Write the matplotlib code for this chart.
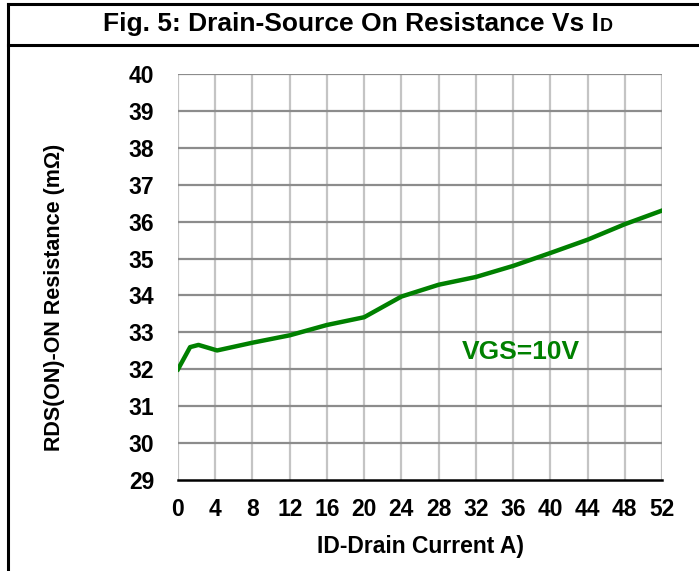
import matplotlib
matplotlib.use("Agg")
import matplotlib.pyplot as plt
from matplotlib import font_manager
from matplotlib.lines import Line2D

names = {f.name for f in font_manager.fontManager.ttflist}
FONT = "Liberation Sans Narrow" if "Liberation Sans Narrow" in names else "Liberation Sans"
plt.rcParams['font.family'] = [FONT, 'DejaVu Sans']

# Data
drain_current = [0, 1.3, 2.2, 4.2, 8, 12, 16, 20, 24, 28, 32, 36, 40, 44, 48, 52]
rds_on = [32.0, 32.6, 32.66, 32.51, 32.72, 32.92, 33.2, 33.41, 33.97, 34.29, 34.5, 34.8, 35.15, 35.51, 35.93, 36.3]
x_ticks = list(range(0, 53, 4))
y_ticks = list(range(29, 41))

GREEN = "#008000"
W, H = 699, 571

fig = plt.figure(figsize=(6.99, 5.71), dpi=100)
ax = fig.add_axes([178/W, 1-480/H, (662-178)/W, (480-74)/H])

ax.plot(drain_current, rds_on, color=GREEN, lw=3.2, solid_joinstyle='round', zorder=5)

ax.set_xlim(0, 52)
ax.set_ylim(29, 40)
ax.set_xticks(x_ticks)
ax.set_yticks(y_ticks)
ax.tick_params(length=0, labelsize=16.5)
ax.tick_params(axis='x', pad=13)
ax.tick_params(axis='y', pad=17)
for lab in ax.get_xticklabels() + ax.get_yticklabels():
    lab.set_fontweight('bold')

for y in y_ticks[1:]:
    ax.axhline(y, color="#8c8c8c", lw=1.6, zorder=2)
for x in x_ticks:
    ax.axvline(x, color="#c4c4c4", lw=1.6, zorder=1)
for s in ['top', 'right', 'left']:
    ax.spines[s].set_visible(False)
ax.spines['bottom'].set_color('black')
ax.spines['bottom'].set_linewidth(1.8)
ax.spines['bottom'].set_zorder(6)

ax.set_xlabel("ID-Drain Current A)", fontsize=16.5, fontweight='bold')
ax.set_ylabel("RDS(ON)-ON Resistance (mΩ)", fontsize=15.5, fontweight='bold')
ax.xaxis.set_label_coords(0.5, -(547-480)/406)
ax.xaxis.label.set_va('center')
ax.yaxis.set_label_coords((55-178)/484, 1-(297.5-74)/406)
ax.yaxis.label.set_va('center')

ax.text(30.5, 32.46, "VGS=10V", color=GREEN, fontsize=19, fontweight='bold',
        ha='left', va='center', zorder=7)

# Frame lines
fig.add_artist(Line2D([8/W, 8/W], [0, 1-4/H], color='black', lw=2.2, transform=fig.transFigure))
fig.add_artist(Line2D([8/W, 1], [1-4/H, 1-4/H], color='black', lw=2.2, transform=fig.transFigure))
fig.add_artist(Line2D([8/W, 1], [1-45/H, 1-45/H], color='black', lw=2.2, transform=fig.transFigure))

# Title with small D
t = fig.text(0, 1-31/H, "Fig. 5: Drain-Source On Resistance Vs I", fontsize=19, fontweight='bold',
             ha='left', va='baseline')
r = fig.canvas.get_renderer()
bb1 = t.get_window_extent(r)
t2 = fig.text(0, 1-31/H, "D", fontsize=13, fontweight='bold', ha='left', va='baseline')
bb2 = t2.get_window_extent(r)
total = bb1.width + bb2.width
x0 = 357 - total/2
t.set_x(x0/W)
t2.set_x((x0 + bb1.width + 1)/W)

fig.savefig("out.png", dpi=100)
